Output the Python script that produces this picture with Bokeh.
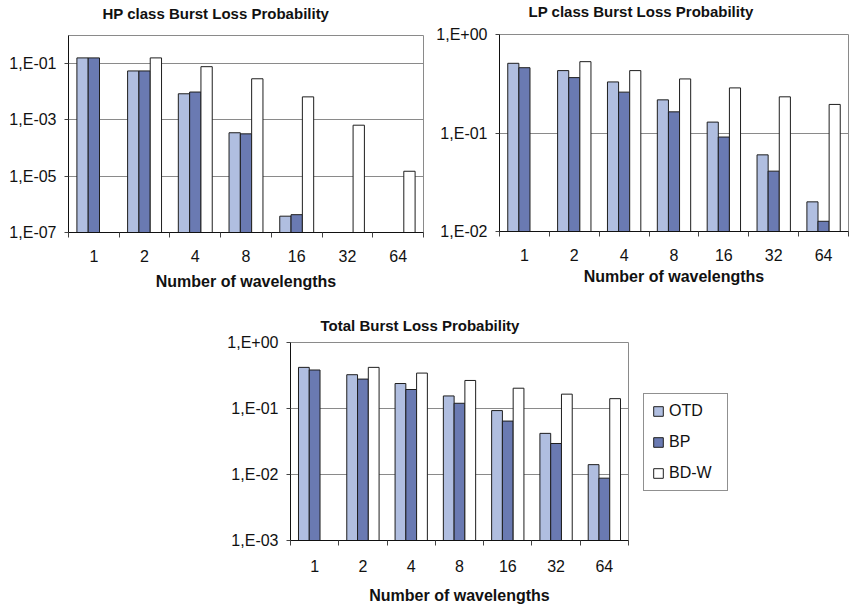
from bokeh.plotting import figure
from bokeh.layouts import column, row
from bokeh.models import (ColumnDataSource, FixedTicker, CustomJSTickFormatter,
                          Legend, LegendItem, Title)
from bokeh.embed import file_html
from bokeh.resources import INLINE

# Number of wavelengths (categories on the x axis)
wavelengths = ["1", "2", "4", "8", "16", "32", "64"]
series_names = ["OTD", "BP", "BD-W"]

# HP class burst loss probability (None = no bar drawn)
hp_otd = [0.16, 0.055, 0.0085, 3.5e-4, 3.8e-7, None, None]
hp_bp = [0.16, 0.055, 0.0098, 3.2e-4, 4.3e-7, None, None]
hp_bdw = [None, 0.16, 0.078, 0.029, 0.0066, 6.5e-4, 1.5e-5]

# LP class burst loss probability
lp_otd = [0.51, 0.43, 0.33, 0.217, 0.129, 0.060, 0.020]
lp_bp = [0.46, 0.365, 0.26, 0.164, 0.091, 0.041, 0.0127]
lp_bdw = [None, 0.53, 0.43, 0.354, 0.287, 0.233, 0.195]

# Total burst loss probability
tot_otd = [0.42, 0.325, 0.239, 0.155, 0.093, 0.042, 0.0141]
tot_bp = [0.383, 0.279, 0.194, 0.12, 0.0645, 0.0295, 0.0088]
tot_bdw = [None, 0.42, 0.344, 0.266, 0.203, 0.165, 0.141]

FONT = "Liberation Sans"
COLORS = {"OTD": "#B0BEE0", "BP": "#6A7AB2", "BD-W": "#FFFFFF"}
BAR_W = 0.223

EXP_FMT = """
const e = Math.round(Math.log10(tick));
const a = Math.abs(e);
return "1,E" + (e < 0 ? "-" : "+") + (a < 10 ? "0" : "") + a;
"""


def make_chart(title, title_offset, title_standoff,
               tick_standoff, label_standoff, series,
               y_lo, y_hi, y_ticks, width, height, left, right, top, bottom,
               shift_up=0):
    p = figure(width=width, height=height,
               frame_width=width - left - right, frame_height=height - top - bottom,
               x_range=(0, len(wavelengths)), y_range=(y_lo, y_hi),
               y_axis_type="log", output_backend="svg", toolbar_location=None,
               min_border_left=left, min_border_right=right,
               min_border_top=top, min_border_bottom=bottom,
               margin=(-shift_up, 0, 0, 0))
    p.title = Title(text=title, align="left", offset=title_offset,
                    standoff=title_standoff,
                    text_font=FONT, text_font_size="15px",
                    text_font_style="bold", text_color="#111111")
    p.outline_line_color = "#8a8a8a"
    p.outline_line_width = 1
    p.background_fill_color = "white"
    p.border_fill_color = "white"

    renderers = []
    for k, (name, vals) in enumerate(zip(series_names, series)):
        off = (k - 1) * BAR_W
        xs = [i + 0.5 + off for i, v in enumerate(vals) if v is not None]
        tops = [v for v in vals if v is not None]
        src = ColumnDataSource(dict(x=xs, top=tops))
        r = p.vbar(x="x", top="top", bottom=y_lo, width=BAR_W, source=src,
                   fill_color=COLORS[name], line_color="#1e1e1e", line_width=1)
        renderers.append(r)

    # x axis: labels at category centres, tick marks at category boundaries
    xa = p.xaxis[0]
    xa.ticker = FixedTicker(ticks=[i + 0.5 for i in range(len(wavelengths))],
                            minor_ticks=list(range(len(wavelengths) + 1)))
    xa.formatter = CustomJSTickFormatter(args=dict(labels=wavelengths),
                                         code="return labels[Math.floor(tick)];")
    xa.major_tick_in = 0
    xa.major_tick_out = 0
    xa.minor_tick_in = 0
    xa.minor_tick_out = 5
    xa.minor_tick_line_color = "#444444"
    xa.axis_line_color = "#111111"
    xa.major_label_text_font = FONT
    xa.major_label_text_font_size = "16px"
    xa.major_label_text_color = "#111111"
    xa.major_label_standoff = tick_standoff
    xa.axis_label = "Number of wavelengths"
    xa.axis_label_text_font = FONT
    xa.axis_label_text_font_size = "16px"
    xa.axis_label_text_font_style = "bold"
    xa.axis_label_text_color = "#111111"
    xa.axis_label_standoff = label_standoff
    p.xgrid.grid_line_color = None

    # y axis: logarithmic, labels as 1,E-xx
    yt = FixedTicker(ticks=y_ticks, minor_ticks=[])
    ya = p.yaxis[0]
    ya.ticker = yt
    ya.formatter = CustomJSTickFormatter(code=EXP_FMT)
    ya.major_tick_in = 0
    ya.major_tick_out = 4
    ya.minor_tick_in = 0
    ya.minor_tick_out = 0
    ya.major_tick_line_color = "#444444"
    ya.axis_line_color = "#111111"
    ya.major_label_text_font = FONT
    ya.major_label_text_font_size = "16px"
    ya.major_label_text_color = "#111111"
    ya.major_label_standoff = 8
    p.ygrid.ticker = yt
    p.ygrid.grid_line_color = "#8a8a8a"
    p.ygrid.grid_line_width = 1
    return p, renderers


# top row: the canvases start above the page edge so the titles sit high
hp, _ = make_chart("HP class Burst Loss Probability", 34, 28, 12, 8,
                   [hp_otd, hp_bp, hp_bdw], 1e-7, 1.0, [1e-7, 1e-5, 1e-3, 1e-1],
                   width=430, height=312, left=68, right=7, top=50, bottom=65,
                   shift_up=15)
lp, _ = make_chart("LP class Burst Loss Probability", 29, 30, 12, 4,
                   [lp_otd, lp_bp, lp_bdw], 1e-2, 1.0, [1e-2, 1e-1, 1.0],
                   width=420, height=313, left=69, right=2, top=50, bottom=66,
                   shift_up=16)
tot, tot_r = make_chart("Total Burst Loss Probability", 30, 17, 14, 12,
                        [tot_otd, tot_bp, tot_bdw], 1e-3, 1.0,
                        [1e-3, 1e-2, 1e-1, 1.0],
                        width=850, height=308, left=290, right=222, top=45, bottom=65)

legend = Legend(items=[LegendItem(label=n, renderers=[r])
                       for n, r in zip(series_names, tot_r)],
                location=(15, 49), orientation="vertical",
                margin=0, padding=8, spacing=13,
                glyph_width=12, glyph_height=12, label_standoff=5, label_width=50,
                label_text_font=FONT, label_text_font_size="16px",
                label_text_color="#111111",
                border_line_color="#222222", border_line_width=1,
                background_fill_color="white", background_fill_alpha=1.0)
tot.add_layout(legend, "right")

layout = column(row(hp, lp, spacing=0), tot, spacing=0)

with open("out.html", "w") as f:
    f.write(file_html(layout, INLINE))
